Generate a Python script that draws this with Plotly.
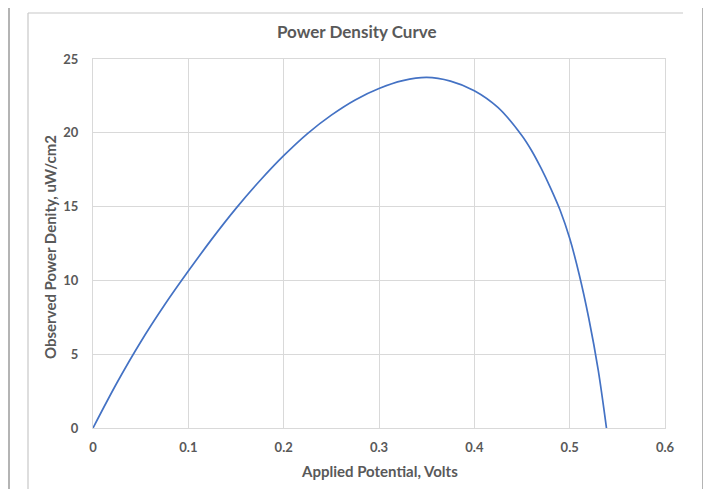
import plotly.graph_objects as go

# Data
voltage = [0, 0.025, 0.05, 0.075, 0.1, 0.125, 0.15, 0.175, 0.2, 0.225,
           0.25, 0.275, 0.3, 0.325, 0.35, 0.375, 0.4, 0.425, 0.45,
           0.46, 0.47, 0.48, 0.49, 0.5, 0.51, 0.52, 0.53, 0.5386]
power = [0, 3.05, 5.83, 8.33, 10.63, 12.83, 14.88, 16.75, 18.45, 19.95,
         21.2, 22.23, 23.0, 23.53, 23.75, 23.5, 22.85, 21.7, 19.8,
         18.8, 17.6, 16.25, 14.75, 12.85, 10.4, 7.45, 3.9, 0]

x_ticks = [0, 0.1, 0.2, 0.3, 0.4, 0.5, 0.6]
x_tick_labels = ["0", "0.1", "0.2", "0.3", "0.4", "0.5", "0.6"]
y_ticks = [0, 5, 10, 15, 20, 25]
y_tick_labels = ["0", "5", "10", "15", "20", "25"]

title_text = "Power Density Curve"
x_title = "Applied Potential, Volts"
y_title = "Observed Power Denity, uW/cm2"

OFF = 8  # page body margin
W, H = 711, 489
# plot area in screen pixels
SL, SR, ST, SB = 93, 665, 59, 428
L, R, T, B = SL - OFF, SR - OFF, ST - OFF, SB - OFF

def px(xs):
    return (xs - SL) / (SR - SL)

def py(ys):
    return (SB - ys) / (SB - ST)

TEXT = "#595959"
GRID = "#d9d9d9"
FONT = "Lato"

fig = go.Figure()
fig.add_trace(go.Scatter(
    x=voltage, y=power, mode="lines",
    line=dict(color="#4472C4", width=1.7, shape="spline", smoothing=0.9),
    hoverinfo="skip", showlegend=False,
))

frame_outer = "#b4b4b4"
frame_inner = "#c8c8c8"
shapes = [
    dict(type="line", xref="paper", yref="paper", x0=px(9), x1=px(9), y0=py(4), y1=py(500),
         line=dict(color=frame_outer, width=2)),
    dict(type="line", xref="paper", yref="paper", x0=px(9), x1=px(703), y0=py(4), y1=py(4),
         line=dict(color=frame_outer, width=2)),
    dict(type="line", xref="paper", yref="paper", x0=px(703), x1=px(703), y0=py(4), y1=py(500),
         line=dict(color=frame_outer, width=2)),
    dict(type="line", xref="paper", yref="paper", x0=px(28), x1=px(28), y0=py(13), y1=py(500),
         line=dict(color=frame_inner, width=1.2)),
    dict(type="line", xref="paper", yref="paper", x0=px(28), x1=px(683), y0=py(13), y1=py(13),
         line=dict(color=frame_inner, width=1.2)),
]

annotations = [
    dict(text="<b>" + title_text + "</b>", xref="paper", yref="paper", x=px(357), y=py(32),
         showarrow=False, font=dict(family=FONT, size=17, color=TEXT), xanchor="center", yanchor="middle"),
    dict(text="<b>" + x_title + "</b>", xref="paper", yref="paper", x=px(379), y=py(471),
         showarrow=False, font=dict(family=FONT, size=15, color=TEXT), xanchor="center", yanchor="middle"),
    dict(text="<b>" + y_title + "</b>", xref="paper", yref="paper", x=px(50), y=py(247),
         showarrow=False, textangle=-90, font=dict(family=FONT, size=15, color=TEXT),
         xanchor="center", yanchor="middle"),
]

fig.update_layout(
    width=W, height=H,
    margin=dict(l=L, r=W - R, t=T, b=H - B, pad=0),
    paper_bgcolor="white", plot_bgcolor="white",
    shapes=shapes, annotations=annotations,
    xaxis=dict(range=[0, 0.6], tickvals=x_ticks, ticktext=x_tick_labels,
               showgrid=True, gridcolor=GRID, gridwidth=1, zeroline=False,
               showline=True, linecolor=GRID, linewidth=1, mirror=True,
               ticks="", ticklabelstandoff=7,
               tickfont=dict(family=FONT, size=13, color=TEXT, weight="bold")),
    yaxis=dict(range=[0, 25], tickvals=y_ticks, ticktext=y_tick_labels,
               showgrid=True, gridcolor=GRID, gridwidth=1, zeroline=False,
               showline=True, linecolor=GRID, linewidth=1, mirror=True,
               ticks="", ticklabelstandoff=11,
               tickfont=dict(family=FONT, size=13, color=TEXT, weight="bold")),
)

fig.write_html("out.html")
